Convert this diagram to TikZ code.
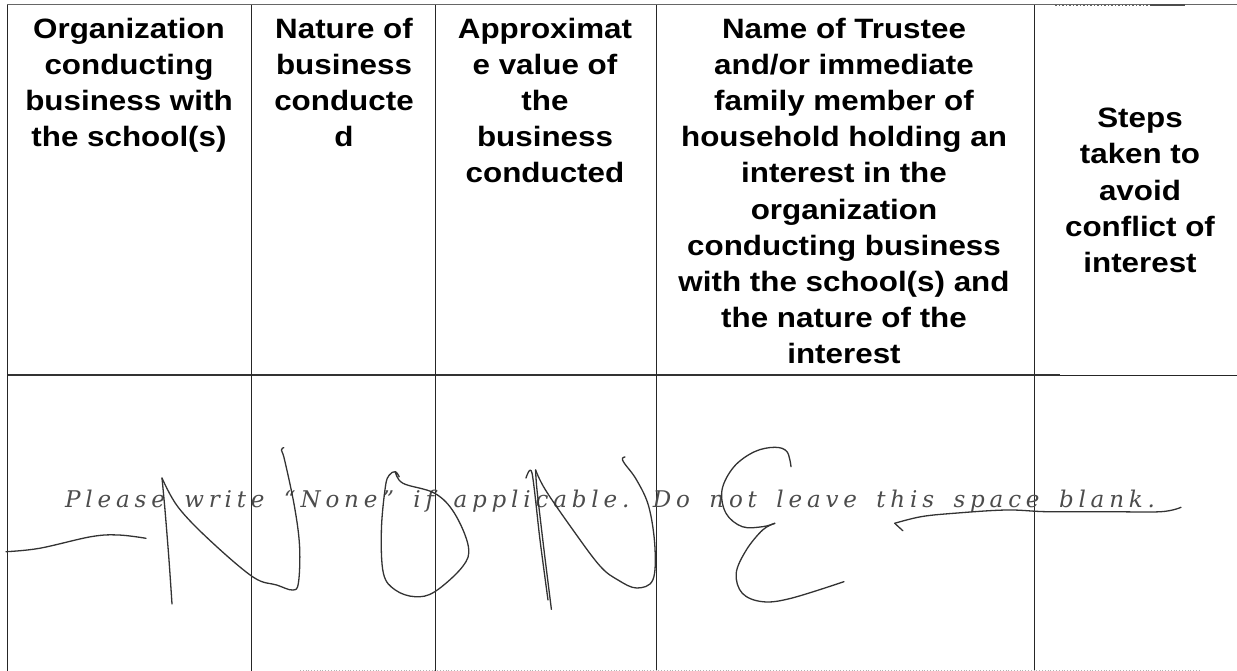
\documentclass[tikz,border=0pt]{standalone}
\usepackage{fontspec}
\setmainfont{Liberation Sans}
\newfontfamily\hdrfont[FakeStretch=1.12]{Liberation Sans}
\newfontfamily\notefont[LetterSpace=21,WordSpace=1.6]{DejaVu Serif}
\begin{document}
\begin{tikzpicture}[x=1pt,y=-1pt,
  hdr/.style={font=\hdrfont\bfseries\fontsize{28}{36.2}\selectfont, align=center, inner sep=0pt, anchor=north},
  note/.style={font=\notefont\itshape\fontsize{23}{28}\selectfont, text=black!70, inner sep=0pt, anchor=base west},
  rule/.style={line width=1pt, draw=black!85},
  thickrule/.style={line width=2pt, draw=black!80},
  hand/.style={line width=1.3pt, draw=black!80, line cap=round, line join=round}]
\useasboundingbox (0,0) rectangle (1237,671);
% table rules
\draw[rule, draw=black!60] (7,5) -- (1237,5);
\draw[line width=1.5pt, draw=black!60, dotted] (1055,5) -- (1150,5);
\draw[line width=2pt, draw=black!70] (1150,5) -- (1185,5);
\draw[thickrule] (7,375) -- (1060,375);
\draw[rule] (1060,375) -- (1237,375);
\foreach \x in {7,251,435,656,1034} \draw[rule] (\x,5) -- (\x,671);
\draw[black!30, line width=0.8pt, dotted] (300,670) -- (1200,670);
% header cells
\node[hdr] (h1) at (129,17.7) {Organization\\conducting\\business with\\the school(s)};
\node[hdr] (h2) at (344,17.7) {Nature of\\business\\conducte\\d};
\node[hdr] (h3) at (545,17.7) {Approximat\\e value of\\the\\business\\conducted};
\node[hdr] (h4) at (844,17.7) {Name of Trustee\\and/or immediate\\family member of\\household holding an\\interest in the\\organization\\conducting business\\with the school(s) and\\the nature of the\\interest};
\node[hdr] (h5) at (1140,108) {Steps\\taken to\\avoid\\conflict of\\interest};
% printed note
\node[note] (note) at (65,507) {Please write “None” if applicable. Do not leave this space blank.};
% handwriting: -NONE-
\draw[hand] plot[smooth, tension=0.6] coordinates {(6,551.7) (39.5,548.3) (91,536.7) (118.6,535) (146,538.3)};
\draw[hand] plot[smooth, tension=0.5] coordinates {(172,604) (169,560) (165,510) (162,478)};
\draw[hand] plot[smooth, tension=0.6] coordinates {(162,478) (178,507) (209.5,540) (253,577) (276.7,585) (292.5,590) (298.4,583) (299.6,546.7) (294.5,506.7) (284.6,460) (281.4,450) (283.8,447.7)};
\draw[hand] plot[smooth, tension=0.6] coordinates {(395.3,471.7) (403,483.3) (434.8,493.3) (454.5,513.3) (468.4,546.7) (462.5,566.7) (434.8,591.7) (415,596.7) (395.3,590) (383.4,573.3) (381.4,530) (385.4,486.7) (389.3,475) (395.3,471.7) (399.2,476.7)};
\draw[hand] plot[smooth, tension=0.5] coordinates {(551.4,609.3) (544,550) (537,490) (535.6,470)};
\draw[hand] plot[smooth, tension=0.5] coordinates {(526,478) (532,473) (540,540) (548,600)};
\draw[hand] plot[smooth, tension=0.6] coordinates {(535.6,470) (545.5,490) (573,530) (600,566) (618,580) (636.6,588) (652.8,580) (654.9,546.7) (648.8,506.7) (636.6,480) (624.4,463.3) (622.4,458.3) (625,457)};
\draw[hand] plot[smooth, tension=0.6] coordinates {(791,466.7) (787,451.7) (774.8,447.3) (754.5,451.7) (734,466.7) (722,490) (726,513.3) (742.3,526.7) (762.6,526.7) (774.8,523.3)};
\draw[hand] plot[smooth, tension=0.6] coordinates {(774.8,523.3) (762.6,530) (746.3,550) (736.2,573.3) (742.3,593.3) (762.6,601.7) (791,598.3) (843.9,581.7)};
\draw[hand] (902.8,530.7) -- (894.7,523.3);
\draw[hand] plot[smooth, tension=0.6] coordinates {(894.7,523.3) (921,516.7) (953.7,513.3) (1006.5,510) (1047,511.7) (1108,511.7) (1161,511.7) (1181,507.3)};
\end{tikzpicture}
\end{document}
